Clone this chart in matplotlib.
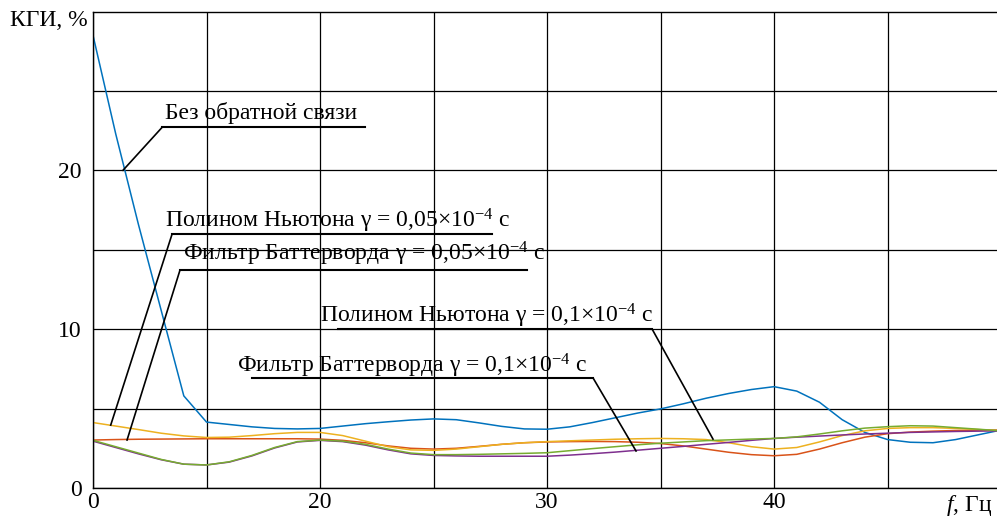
import matplotlib
matplotlib.use("Agg")
import matplotlib.pyplot as plt
from matplotlib.ticker import FixedLocator, FixedFormatter

plt.rcParams['font.family'] = ['Liberation Serif', 'DejaVu Serif']
plt.rcParams['mathtext.fontset'] = 'custom'
plt.rcParams['mathtext.rm'] = 'Liberation Serif'
plt.rcParams['mathtext.it'] = 'Liberation Serif:italic'
plt.rcParams['font.size'] = 17

# частота, Гц
freq = list(range(10, 51))

# КГИ, %
no_feedback = [28.5, 22.3, 16.6, 11.2, 5.8, 4.15, 4.0, 3.85, 3.75, 3.72,
               3.75, 3.9, 4.05, 4.17, 4.28, 4.35, 4.3, 4.1, 3.88, 3.72,
               3.7, 3.85, 4.12, 4.42, 4.72, 4.98, 5.3, 5.65, 5.95, 6.2,
               6.38, 6.1, 5.4, 4.3, 3.5, 3.05, 2.88, 2.85, 3.05, 3.35, 3.65]
newton_005 = [4.12, 3.9, 3.68, 3.45, 3.28, 3.18, 3.2, 3.3, 3.42, 3.5,
              3.5, 3.3, 2.95, 2.6, 2.4, 2.37, 2.45, 2.6, 2.75, 2.85,
              2.92, 2.97, 3.02, 3.07, 3.1, 3.12, 3.1, 3.05, 2.85, 2.6,
              2.45, 2.55, 2.9, 3.3, 3.6, 3.75, 3.8, 3.8, 3.75, 3.68, 3.6]
butter_005 = [3.02, 3.05, 3.07, 3.08, 3.09, 3.1, 3.1, 3.1, 3.1, 3.1,
              3.08, 3.0, 2.85, 2.65, 2.5, 2.45, 2.5, 2.62, 2.75, 2.85,
              2.9, 2.92, 2.93, 2.92, 2.88, 2.8, 2.65, 2.45, 2.25, 2.1,
              2.03, 2.12, 2.45, 2.85, 3.2, 3.42, 3.52, 3.58, 3.62, 3.64, 3.65]
newton_01 = [3.0, 2.6, 2.2, 1.8, 1.5, 1.45, 1.65, 2.05, 2.55, 2.92,
             3.02, 2.95, 2.75, 2.45, 2.2, 2.1, 2.1, 2.12, 2.15, 2.18,
             2.22, 2.35, 2.48, 2.6, 2.72, 2.82, 2.9, 2.98, 3.03, 3.08,
             3.12, 3.22, 3.4, 3.6, 3.77, 3.86, 3.92, 3.9, 3.8, 3.7, 3.6]
butter_01 = [2.95, 2.55, 2.15, 1.78, 1.5, 1.45, 1.63, 2.02, 2.52, 2.9,
             3.0, 2.92, 2.7, 2.4, 2.15, 2.05, 2.02, 2.0, 2.0, 2.0,
             2.0, 2.07, 2.16, 2.26, 2.38, 2.5, 2.62, 2.75, 2.87, 3.0,
             3.12, 3.2, 3.27, 3.34, 3.4, 3.45, 3.5, 3.53, 3.56, 3.58, 3.6]

xtick_pos = [10, 20, 30, 40]
xtick_labels = ['0', '20', '30', '40']
ytick_pos = [0, 10, 20]
ytick_labels = ['0', '10', '20']

fig = plt.figure(figsize=(9.97, 5.17), dpi=100)
ax = fig.add_axes([93 / 997, 1 - 488 / 517, 1 - 93 / 997, 476.5 / 517])

ax.plot(freq, no_feedback, color='#0072BD', lw=1.1)
ax.plot(freq, butter_005, color='#D95319', lw=1.1)
ax.plot(freq, newton_005, color='#EDB120', lw=1.1)
ax.plot(freq, butter_01, color='#7E2F8E', lw=1.1)
ax.plot(freq, newton_01, color='#77AC30', lw=1.1)

ax.set_xlim(10, 49.82)
ax.set_ylim(0, 30)

ax.xaxis.set_major_locator(FixedLocator(xtick_pos))
ax.xaxis.set_major_formatter(FixedFormatter(xtick_labels))
ax.xaxis.set_minor_locator(FixedLocator([15, 25, 35, 45]))
ax.yaxis.set_major_locator(FixedLocator(ytick_pos))
ax.yaxis.set_major_formatter(FixedFormatter(ytick_labels))
ax.yaxis.set_minor_locator(FixedLocator([5, 15, 25]))
ax.tick_params(which='both', length=0)
ax.tick_params(axis='x', pad=3)
ax.tick_params(axis='y', pad=8)
ax.grid(True, which='both', color='black', lw=0.9)
ax.set_axisbelow(True)
ax.spines['right'].set_visible(False)
for s in ['left', 'bottom', 'top']:
    ax.spines[s].set_linewidth(1.0)

# подписи с выносками
notes = [
    ('Без обратной связи', 13.17, 23.21, (13.04, 21.98, 22.70), (13.04, 11.32, 22.70, 20.0)),
    ('Полином Ньютона γ = 0,05×10$^{-4}$ с', 13.17, 16.42, (13.48, 27.58, 15.97), (13.48, 10.78, 15.97, 3.96)),
    ('Фильтр Баттерворда γ = 0,05×10$^{-4}$ с', 13.96, 14.34, (13.83, 29.12, 13.71), (13.83, 11.5, 13.71, 3.02)),
    ('Полином Ньютона γ = 0,1×10$^{-4}$ с', 20.0, 10.44, (20.79, 34.63, 10.0), (34.63, 37.31, 10.0, 3.08)),
    ('Фильтр Баттерворда γ = 0,1×10$^{-4}$ с', 16.34, 7.30, (17.0, 32.03, 6.92), (32.03, 33.92, 6.92, 2.33)),
]
for txt, tx, ty, ul, ld in notes:
    ax.text(tx, ty, txt, va='baseline', ha='left')
    ax.plot([ul[0], ul[1]], [ul[2], ul[2]], color='black', lw=1.5)
    ax.plot([ld[0], ld[1]], [ld[2], ld[3]], color='black', lw=1.2)

fig.text(10 / 997, 1 - 20 / 517, 'КГИ, %', ha='left', va='center')
fig.text(992 / 997, 1 - 506 / 517, '$f$, Гц', ha='right', va='center')

fig.savefig('out.png', dpi=100)
